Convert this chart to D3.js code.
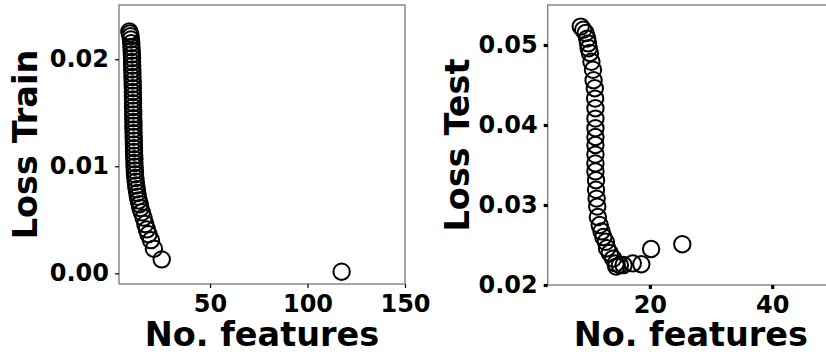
<!DOCTYPE html>
<html>
<head>
<meta charset="utf-8">
<script src="https://cdn.jsdelivr.net/npm/d3@7"></script>
<style>
  body { margin: 0; background: #fff; }
  svg { display: block; font-family: "DejaVu Sans", sans-serif; font-weight: bold; }
</style>
</head>
<body>
<svg id="plot"></svg>
<script>
// Training loss against number of selected features
const trainFeatures = [8.6, 8.9, 9.2, 9.4, 9.6, 9.7, 9.8, 9.9, 10.0, 10.0, 10.1, 10.1, 10.2, 10.2,
  10.3, 10.3, 10.4, 10.4, 10.4, 10.5, 10.5, 10.5, 10.6, 10.6, 10.6, 10.7, 10.7, 10.7, 10.8, 10.8,
  10.9, 10.9, 11.0, 11.0, 11.1, 11.2, 11.2, 11.3, 11.4, 11.5, 11.7, 11.9, 12.1, 12.4, 12.7, 13.0,
  13.4, 13.9, 14.3, 15.0, 15.9, 16.8, 17.6, 18.4, 19.7, 21.2, 25.2, 117.5];
const trainLoss = [0.02260, 0.02240, 0.02215, 0.02185, 0.02150, 0.02115, 0.02080, 0.02045, 0.02010,
  0.01975, 0.01940, 0.01905, 0.01870, 0.01835, 0.01800, 0.01765, 0.01730, 0.01695, 0.01660, 0.01625,
  0.01590, 0.01555, 0.01520, 0.01485, 0.01450, 0.01415, 0.01380, 0.01345, 0.01310, 0.01275, 0.01240,
  0.01205, 0.01170, 0.01135, 0.01100, 0.01065, 0.01030, 0.00995, 0.00960, 0.00925, 0.00890, 0.00855,
  0.00820, 0.00785, 0.00750, 0.00715, 0.00680, 0.00645, 0.00610, 0.00570, 0.00520, 0.00460, 0.00410,
  0.00365, 0.00310, 0.00230, 0.00130, 0.00015];

// Test loss against number of selected features
const testFeatures = [8.7, 9.1, 9.5, 9.75, 9.9, 10.0, 10.2, 10.45, 10.7, 10.8, 11.0, 11.05, 11.1,
  11.1, 11.1, 11.1, 11.1, 11.1, 11.1, 11.1, 11.2, 11.2, 11.3, 11.4, 11.5, 11.8, 12.1, 12.4, 12.8,
  13.0, 13.45, 14.0, 14.4, 14.5, 15.1, 15.7, 17.2, 18.6, 20.2, 25.3];
const testLoss = [0.0523, 0.0519, 0.0515, 0.0508, 0.0502, 0.0496, 0.0490, 0.0479, 0.0469, 0.0456,
  0.0446, 0.0433, 0.0421, 0.0408, 0.0396, 0.0385, 0.0375, 0.0363, 0.0352, 0.0342, 0.0331, 0.0319,
  0.0308, 0.0298, 0.0285, 0.0275, 0.0267, 0.0260, 0.0254, 0.0246, 0.0240, 0.0233, 0.0227, 0.0223,
  0.0225, 0.0225, 0.0227, 0.0226, 0.0245, 0.0251];

// Tick values
const trainXTicks = [50, 100, 150];
const trainYTicks = [0.00, 0.01, 0.02];
const testXTicks = [20, 40];
const testYTicks = [0.02, 0.03, 0.04, 0.05];

const width = 826;
const height = 356;

const svg = d3.select("#plot")
    .attr("width", width)
    .attr("height", height)
    .attr("viewBox", [0, 0, width, height]);

svg.append("rect").attr("width", width).attr("height", height).attr("fill", "#fff");

function panel(opts) {
  const x = d3.scaleLinear().domain(opts.xDomain).range([opts.left, opts.right]);
  const y = d3.scaleLinear().domain(opts.yDomain).range([opts.bottom, opts.top]);
  const g = svg.append("g");

  // Points
  g.append("g")
    .selectAll("circle")
    .data(opts.xs.map((d, i) => [d, opts.ys[i]]))
    .join("circle")
      .attr("cx", d => x(d[0]))
      .attr("cy", d => y(d[1]))
      .attr("r", 8.2)
      .attr("fill", "none")
      .attr("stroke", "#000")
      .attr("stroke-width", 2);

  // Frame
  g.append("rect")
      .attr("x", opts.left)
      .attr("y", opts.top)
      .attr("width", opts.right - opts.left)
      .attr("height", opts.bottom - opts.top)
      .attr("fill", "none")
      .attr("stroke", "#808080")
      .attr("stroke-width", 1.4);

  const xAxis = g.append("g")
      .attr("transform", `translate(0,${opts.bottom})`)
      .call(d3.axisBottom(x).tickValues(opts.xTicks).tickFormat(d3.format("d"))
        .tickSize(4).tickPadding(7).tickSizeOuter(0));
  const yAxis = g.append("g")
      .attr("transform", `translate(${opts.left},0)`)
      .call(d3.axisLeft(y).tickValues(opts.yTicks).tickFormat(d3.format(".2f"))
        .tickSize(4).tickPadding(6).tickSizeOuter(0));

  for (const ax of [xAxis, yAxis]) {
    ax.select(".domain").remove();
    ax.selectAll("text")
        .attr("font-family", "DejaVu Sans")
        .attr("font-weight", "bold")
        .attr("font-size", 24)
        .attr("fill", "#000");
    ax.selectAll("line")
        .attr("stroke", "#000")
        .attr("stroke-width", opts.tickWidth);
  }

  // Axis titles
  g.append("text")
      .attr("x", (opts.left + opts.right) / 2)
      .attr("y", 346)
      .attr("text-anchor", "middle")
      .attr("font-size", 33.5)
      .text("No. features");

  g.append("text")
      .attr("transform", `translate(${opts.yLabelX},${(opts.top + opts.bottom) / 2}) rotate(-90)`)
      .attr("text-anchor", "middle")
      .attr("font-size", 33.5)
      .text(opts.yLabel);
}

panel({
  xs: trainFeatures, ys: trainLoss,
  xDomain: [3.3, 150], yDomain: [-0.001, 0.02507],
  left: 119, right: 405, top: 5, bottom: 284,
  xTicks: trainXTicks, yTicks: trainYTicks,
  tickWidth: 1.2, yLabel: "Loss Train", yLabelX: 37
});

panel({
  xs: testFeatures, ys: testLoss,
  xDomain: [3.3, 50.1], yDomain: [0.02, 0.055],
  left: 547.7, right: 834, top: 5, bottom: 285,
  xTicks: testXTicks, yTicks: testYTicks,
  tickWidth: 3.2, yLabel: "Loss Test", yLabelX: 469
});
</script>
</body>
</html>
